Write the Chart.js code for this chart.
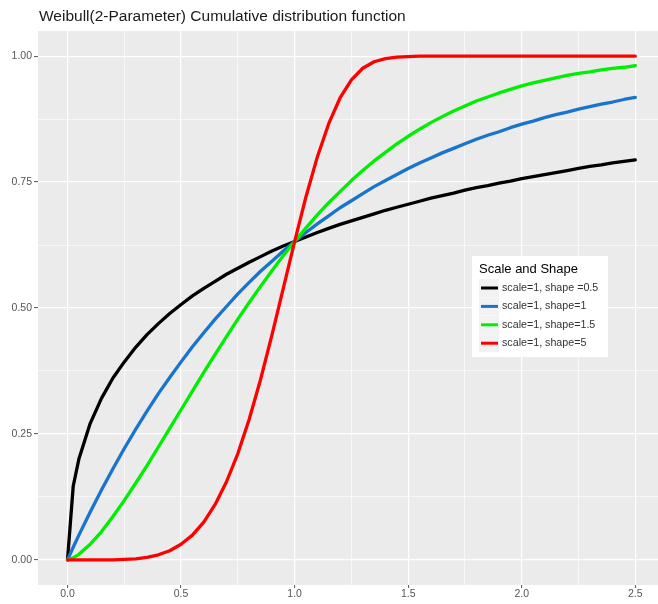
<!DOCTYPE html>
<html>
<head>
<meta charset="utf-8">
<script src="https://cdn.jsdelivr.net/npm/chart.js@4/dist/chart.umd.min.js"></script>
<style>
  body { margin: 0; background: #fff; }
  canvas { display: block; }
</style>
</head>
<body>
<canvas id="weibullChart" width="658" height="604"></canvas>
<script>
// x positions (t)
const xs = [0, 0.025, 0.05, 0.1, 0.15, 0.2, 0.25, 0.3, 0.35, 0.4, 0.45, 0.5, 0.55, 0.6, 0.65, 0.7, 0.75, 0.8, 0.85, 0.9, 0.95, 1.0,
  1.05, 1.1, 1.15, 1.2, 1.25, 1.3, 1.35, 1.4, 1.45, 1.5, 1.55, 1.6, 1.65, 1.7, 1.75, 1.8, 1.85, 1.9, 1.95, 2.0,
  2.05, 2.1, 2.15, 2.2, 2.25, 2.3, 2.35, 2.4, 2.45, 2.5];

// CDF values
const shape05 = [0, 0.146, 0.200, 0.271, 0.321, 0.361, 0.393, 0.422, 0.447, 0.469, 0.489, 0.507, 0.524, 0.539, 0.553, 0.567, 0.579, 0.591, 0.602, 0.613, 0.623, 0.632,
  0.641, 0.650, 0.658, 0.666, 0.673, 0.680, 0.687, 0.694, 0.700, 0.706, 0.712, 0.718, 0.723, 0.728, 0.734, 0.739, 0.743, 0.748, 0.752, 0.757,
  0.761, 0.765, 0.769, 0.773, 0.777, 0.781, 0.784, 0.788, 0.791, 0.794];
const shape1 = [0, 0.025, 0.049, 0.095, 0.139, 0.181, 0.221, 0.259, 0.295, 0.330, 0.362, 0.393, 0.423, 0.451, 0.478, 0.503, 0.528, 0.551, 0.573, 0.593, 0.613, 0.632,
  0.650, 0.667, 0.683, 0.699, 0.713, 0.727, 0.741, 0.753, 0.765, 0.777, 0.788, 0.798, 0.808, 0.817, 0.826, 0.835, 0.843, 0.850, 0.858, 0.865,
  0.871, 0.878, 0.884, 0.889, 0.895, 0.900, 0.905, 0.909, 0.914, 0.918];
const shape15 = [0, 0.004, 0.011, 0.031, 0.056, 0.086, 0.118, 0.152, 0.187, 0.224, 0.261, 0.298, 0.335, 0.372, 0.408, 0.443, 0.478, 0.511, 0.543, 0.574, 0.604, 0.632,
  0.659, 0.685, 0.709, 0.731, 0.753, 0.773, 0.792, 0.809, 0.826, 0.841, 0.855, 0.868, 0.880, 0.891, 0.901, 0.911, 0.919, 0.927, 0.934, 0.941,
  0.947, 0.952, 0.957, 0.962, 0.966, 0.969, 0.973, 0.976, 0.978, 0.981];
const shape5 = [0, 0, 0, 0, 0, 0, 0.001, 0.002, 0.005, 0.010, 0.018, 0.031, 0.049, 0.075, 0.110, 0.155, 0.211, 0.279, 0.358, 0.446, 0.539, 0.632,
  0.721, 0.800, 0.866, 0.917, 0.953, 0.976, 0.989, 0.995, 0.998, 0.999, 1, 1, 1, 1, 1, 1, 1, 1, 1, 1,
  1, 1, 1, 1, 1, 1, 1, 1, 1, 1];

const seriesLabels = ['scale=1, shape =0.5', 'scale=1, shape=1', 'scale=1, shape=1.5', 'scale=1, shape=5'];
const seriesColors = ['#000000', '#1874CD', '#00EE00', '#FF0000'];
const seriesValues = [shape05, shape1, shape15, shape5];

const xMajor = [0, 0.5, 1, 1.5, 2, 2.5];
const xMinor = [0.25, 0.75, 1.25, 1.75, 2.25];
const xTickLabels = ['0.0', '0.5', '1.0', '1.5', '2.0', '2.5'];
const yMajor = [0, 0.25, 0.5, 0.75, 1];
const yMinor = [0.125, 0.375, 0.625, 0.875];
const yTickLabels = ['0.00', '0.25', '0.50', '0.75', '1.00'];

const titleText = 'Weibull(2-Parameter) Cumulative distribution function';
const legendTitle = 'Scale and Shape';

Chart.defaults.font.family = '"Liberation Sans", Arial, sans-serif';

const isMajor = (list, v) => list.indexOf(v) >= 0;

function gridFor(major) {
  return {
    color: '#FFFFFF',
    lineWidth: (ctx) => (ctx.tick && isMajor(major, ctx.tick.value)) ? 1.2 : 0.6,
    tickColor: (ctx) => (ctx.tick && isMajor(major, ctx.tick.value)) ? '#555555' : 'rgba(0,0,0,0)',
    tickWidth: 1,
  };
}

// grey panel, title and legend box
const ggPlugin = {
  id: 'ggStyle',
  beforeDraw(chart) {
    const { ctx, chartArea: a } = chart;
    ctx.save();
    ctx.fillStyle = '#EBEBEB';
    ctx.fillRect(a.left, a.top, a.right - a.left, a.bottom - a.top);
    ctx.restore();
  },
  afterDraw(chart) {
    const { ctx, chartArea: a } = chart;
    ctx.save();
    ctx.fillStyle = '#1A1A1A';
    ctx.font = '15.5px "Liberation Sans", Arial, sans-serif';
    ctx.textBaseline = 'middle';
    ctx.fillText(titleText, a.left + 1, 16.5);

    // legend
    const bx = 472, by = 256, bw = 136, bh = 101;
    ctx.fillStyle = '#FFFFFF';
    ctx.fillRect(bx, by, bw, bh);
    ctx.fillStyle = '#000000';
    ctx.font = '13px "Liberation Sans", Arial, sans-serif';
    ctx.textBaseline = 'alphabetic';
    ctx.fillText(legendTitle, 479, 273);
    ctx.font = '10.7px "Liberation Sans", Arial, sans-serif';
    ctx.textBaseline = 'middle';
    seriesLabels.forEach((lab, i) => {
      const cy = 288 + i * 18.4;
      ctx.fillStyle = '#F2F2F2';
      ctx.fillRect(479, cy - 9, 20, 18);
      ctx.strokeStyle = seriesColors[i];
      ctx.lineWidth = 3;
      ctx.beginPath();
      ctx.moveTo(481, cy);
      ctx.lineTo(498, cy);
      ctx.stroke();
      ctx.fillStyle = '#333333';
      ctx.fillText(lab, 502, cy);
    });
    ctx.restore();
  }
};

new Chart(document.getElementById('weibullChart'), {
  type: 'line',
  data: {
    datasets: seriesValues.map((vals, i) => ({
      label: seriesLabels[i],
      data: xs.map((x, j) => ({ x: x, y: vals[j] })),
      borderColor: seriesColors[i],
      borderWidth: 3.3,
      pointRadius: 0,
      tension: 0,
      fill: false,
      borderJoinStyle: 'round',
      borderCapStyle: 'round',
      order: seriesValues.length - i
    }))
  },
  options: {
    responsive: false,
    animation: false,
    layout: { padding: { top: 31, left: 0, right: 0, bottom: 0 } },
    plugins: {
      legend: { display: false },
      tooltip: { enabled: false },
      title: { display: false }
    },
    scales: {
      x: {
        type: 'linear',
        min: -0.13,
        max: 2.6,
        border: { display: false },
        grid: Object.assign(gridFor(xMajor), { tickLength: 3 }),
        afterBuildTicks: (scale) => {
          scale.ticks = xMajor.concat(xMinor).sort((a, b) => a - b).map(v => ({ value: v }));
        },
        afterFit: (scale) => { scale.height = 19; },
        ticks: {
          autoSkip: false,
          maxRotation: 0,
          padding: 0,
          color: '#555555',
          font: { size: 10.5 },
          callback: (v) => {
            const i = xMajor.indexOf(v);
            return i >= 0 ? xTickLabels[i] : '';
          }
        }
      },
      y: {
        min: -0.05,
        max: 1.05,
        border: { display: false },
        grid: Object.assign(gridFor(yMajor), { tickLength: 4 }),
        afterBuildTicks: (scale) => {
          scale.ticks = yMajor.concat(yMinor).sort((a, b) => a - b).map(v => ({ value: v }));
        },
        afterFit: (scale) => { scale.width = 38; },
        ticks: {
          autoSkip: false,
          padding: 2,
          color: '#555555',
          font: { size: 10.5 },
          callback: (v) => {
            const i = yMajor.indexOf(v);
            return i >= 0 ? yTickLabels[i] : '';
          }
        }
      }
    }
  },
  plugins: [ggPlugin]
});
</script>
</body>
</html>
